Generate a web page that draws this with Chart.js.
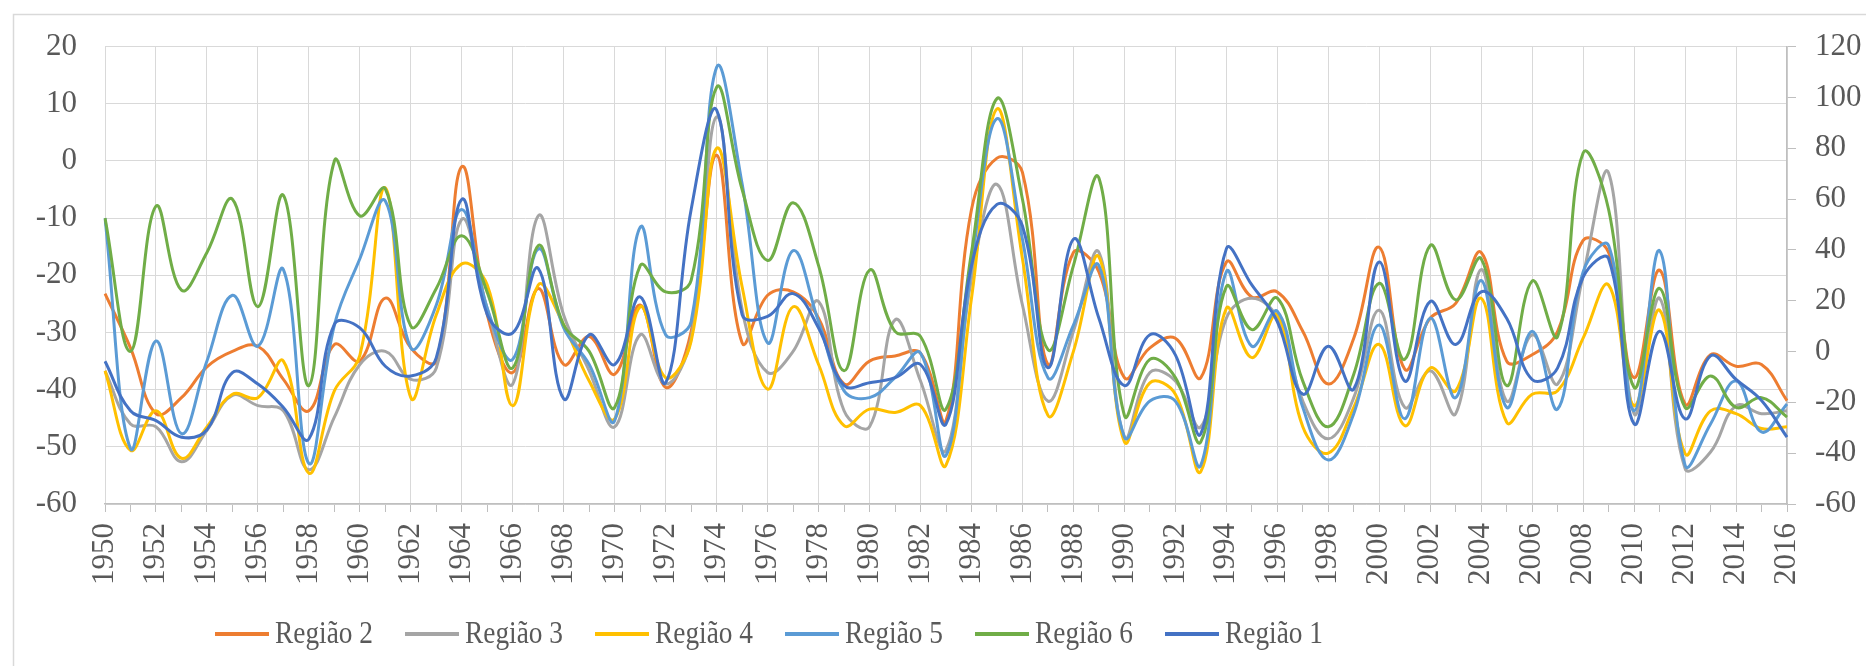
<!DOCTYPE html>
<html>
<head>
<meta charset="utf-8">
<script src="https://cdn.jsdelivr.net/npm/chart.js@4.4.1/dist/chart.umd.min.js"></script>
<style>
  html, body { margin: 0; padding: 0; background: #fff; }
  canvas { display: block; }
</style>
</head>
<body>
<canvas id="chart" width="1866" height="666"></canvas>
<script>
const years = [
  '1950', '1951', '1952', '1953', '1954', '1955', '1956', '1957', '1958', '1959',
  '1960', '1961', '1962', '1963', '1964', '1965', '1966', '1967', '1968', '1969',
  '1970', '1971', '1972', '1973', '1974', '1975', '1976', '1977', '1978', '1979',
  '1980', '1981', '1982', '1983', '1984', '1985', '1986', '1987', '1988', '1989',
  '1990', '1991', '1992', '1993', '1994', '1995', '1996', '1997', '1998', '1999',
  '2000', '2001', '2002', '2003', '2004', '2005', '2006', '2007', '2008', '2009',
  '2010', '2011', '2012', '2013', '2014', '2015', '2016'
];

// left axis series
const regiao2 = [
  -23.2, -32.7, -44.2, -41.4, -36, -33.3, -32.4, -38.2, -43.7, -32.1,
  -35, -24, -32.7, -35, -1, -26.9, -37, -22.3, -35.6, -30.7,
  -37.3, -25.2, -39.6, -29.8, 1, -31.8, -23.5, -22.9, -27.5, -39,
  -35, -34.1, -33.6, -45.4, -8.5, 0.5, -2, -35.6, -16, -19.4,
  -37.9, -32.7, -31, -37.9, -17.7, -23.8, -22.9, -29.8, -39, -31,
  -15.1, -36.4, -27.5, -24.9, -16, -35, -33.9, -29.8, -13.9, -16,
  -37.9, -19.1, -42.5, -33.9, -35.9, -35.6, -41.9
];
const regiao3 = [
  -36.7, -46, -46.5, -52.6, -47.1, -41, -42.8, -43.7, -54, -44.8,
  -35.6, -33.3, -38.2, -36.2, -10.2, -25.8, -39, -9.6, -27, -36.7,
  -46.5, -30.4, -39, -31, 7.7, -26, -37, -33.3, -24.6, -43.7,
  -46.5, -27.8, -38.5, -50.6, -20.6, -4.1, -25.2, -42, -29.8, -16,
  -48.3, -37, -38.5, -46.5, -27.5, -24, -27.5, -42, -48.6, -41.4,
  -26.1, -43.1, -36.7, -44.2, -19, -42, -30.4, -39, -20, -2.1,
  -44.2, -24, -53.8, -50.9, -42.8, -44.2, -43.7
];
const regiao4 = [
  -36.7, -50.6, -43.7, -52, -46.5, -40.8, -41.4, -35, -54.6, -40.2,
  -34, -4.7, -41.4, -26.9, -18, -21.7, -42.8, -21.7, -28.7, -38.5,
  -45.1, -25.5, -37.9, -31.5, 2.2, -22, -39.9, -25.5, -35.6, -46.3,
  -43.4, -44, -42.8, -53.2, -24, 9.1, -17.1, -44.5, -33.3, -16.8,
  -49.1, -38.8, -40.8, -54.3, -25.8, -34.4, -26.9, -46.5, -51.1, -43.1,
  -32.1, -46.3, -36.2, -40.2, -24, -45.7, -40.8, -40.2, -31, -21.7,
  -42.8, -26.1, -51.2, -43.7, -44.2, -46.8, -46.5
];
const regiao5 = [
  -10, -50.3, -31.5, -47.7, -35, -23.5, -32.4, -19, -52.9, -28.7,
  -17.1, -7, -32.7, -25.2, -8.5, -25.8, -34.7, -15.4, -29.2, -35.6,
  -45.4, -11.6, -30.4, -28.1, 16.4, -4, -31.8, -15.7, -28.1, -40.2,
  -41.4, -37.9, -33.6, -51.5, -18.3, 7.4, -13.7, -37.9, -28.7, -18.3,
  -48.3, -42, -42, -53.2, -19.4, -32.4, -26.3, -43.1, -52.3, -44.2,
  -28.7, -45.1, -27.5, -41.4, -20.9, -43.1, -29.8, -43.4, -19.4, -14.8,
  -43.7, -15.7, -53.2, -46, -38.5, -47.4, -42.5
];
const regiao6 = [
  -10, -33.3, -7.9, -22.6, -16, -6.7, -25.5, -6, -39.3, 0,
  -9.6, -4.9, -28.9, -22.3, -13.1, -23, -36.2, -14.8, -28.7, -33.3,
  -43.1, -18.3, -22.9, -20.9, 12.9, -5, -17.4, -7.3, -18.3, -36.7,
  -19.1, -29.8, -30.7, -43.4, -16, 10.9, -6.7, -33, -18.3, -3,
  -44.5, -34.7, -37.9, -49.1, -22, -29.5, -24, -38.5, -46.5, -37.3,
  -21.4, -34.7, -14.8, -24.3, -17.1, -39.3, -21, -30.7, 1.4, -8.5,
  -39.6, -22.3, -43.1, -37.6, -43.1, -41.4, -44.8
];
// right (secondary) axis series
const regiao1 = [
  -3.8, -23.3, -27.2, -33.7, -30.8, -8.3, -12.8, -22, -34.4, 10.7,
  9.3, -5.8, -9.6, -2.4, 59.9, 14.5, 7.3, 32.7, -18.6, 6.6,
  -5.1, 21.5, -12.3, 55.9, 95, 14.5, 13.8, 22.8, 9.3, -13.4,
  -12.3, -10.3, -5.1, -28.5, 33.8, 57.9, 49.4, -6.4, 44.2, 13.1,
  -13.4, 6.6, -1.3, -32.3, 40.4, 26.2, 11.8, -16.8, 2.1, -14.8,
  35.2, -11.6, 19.7, 2.8, 23.5, 13.1, -11, -6.4, 29.3, 36.5,
  -28.5, 8, -26.5, -1.7, -11, -19.3, -33.7
];

const serif = '"Liberation Serif", "Times New Roman", serif';
const textGrey = '#595959';

function series(label, data, color, order, axis) {
  return {
    label: label,
    data: data,
    borderColor: color,
    backgroundColor: color,
    borderWidth: 3,
    pointRadius: 0,
    pointHoverRadius: 0,
    tension: 0.4,
    fill: false,
    order: order,
    yAxisID: axis,
  };
}

// white background + the light outline of the chart box
const chartBox = {
  id: 'chartBox',
  beforeDraw(chart) {
    const ctx = chart.ctx;
    ctx.save();
    ctx.fillStyle = '#fff';
    ctx.fillRect(0, 0, chart.width, chart.height);
    ctx.strokeStyle = '#d9d9d9';
    ctx.lineWidth = 1.5;
    ctx.strokeRect(13.5, 14.5, chart.width + 20, chart.height + 20);
    ctx.restore();
  }
};

// legend drawn like the spreadsheet one: short line then the name
const bottomLegend = {
  id: 'bottomLegend',
  afterDraw(chart) {
    const ctx = chart.ctx;
    ctx.save();
    ctx.font = '31px ' + serif;
    ctx.textBaseline = 'middle';
    chart.data.datasets.forEach((ds, i) => {
      const x = 215 + i * 190;
      const y = 634;
      ctx.strokeStyle = ds.borderColor;
      ctx.lineWidth = 4;
      ctx.beginPath();
      ctx.moveTo(x, y);
      ctx.lineTo(x + 54, y);
      ctx.stroke();
      ctx.fillStyle = textGrey;
      // the spreadsheet squeezes the legend names a little
      ctx.fillText(ds.label, x + 60, y + 1, 98);
    });
    ctx.restore();
  }
};

new Chart(document.getElementById('chart').getContext('2d'), {
  type: 'line',
  data: {
    labels: years,
    datasets: [
      series('Região 2', regiao2, '#ED7D31', 6, 'y'),
      series('Região 3', regiao3, '#A5A5A5', 5, 'y'),
      series('Região 4', regiao4, '#FFC000', 4, 'y'),
      series('Região 5', regiao5, '#5B9BD5', 3, 'y'),
      series('Região 6', regiao6, '#70AD47', 2, 'y'),
      series('Região 1', regiao1, '#4472C4', 1, 'y2'),
    ],
  },
  options: {
    responsive: false,
    devicePixelRatio: 1,
    animation: false,
    layout: { padding: { top: 42, left: 0, right: 0, bottom: 0 } },
    plugins: {
      legend: { display: false },
      tooltip: { enabled: false },
    },
    scales: {
      x: {
        afterFit(scale) { scale.height = 162; },
        grid: {
          color: c => (c.index % 2 === 0 ? '#d9d9d9' : 'rgba(0,0,0,0)'),
          tickColor: '#bfbfbf',
          tickLength: 8,
          lineWidth: 1,
        },
        border: { color: '#bfbfbf', width: 1.5 },
        ticks: {
          autoSkip: false,
          minRotation: 90,
          maxRotation: 90,
          padding: 11,
          color: textGrey,
          font: { family: serif, size: 31 },
          callback(value, index) {
            return index % 2 === 0 ? this.getLabelForValue(value) : '';
          },
        },
      },
      y: {
        position: 'left',
        min: -60,
        max: 20,
        afterFit(scale) { scale.width = 105; },
        grid: { color: '#d9d9d9', drawTicks: false, lineWidth: 1 },
        border: { display: false },
        ticks: {
          stepSize: 10,
          padding: 28,
          color: textGrey,
          font: { family: serif, size: 31 },
        },
      },
      y2: {
        position: 'right',
        min: -60,
        max: 120,
        afterFit(scale) { scale.width = 79; },
        grid: { drawOnChartArea: false, color: '#bfbfbf', tickLength: 9 },
        border: { color: '#bfbfbf', width: 1.5 },
        ticks: {
          stepSize: 20,
          padding: 19,
          color: textGrey,
          font: { family: serif, size: 31 },
        },
      },
    },
  },
  plugins: [chartBox, bottomLegend],
});
</script>
</body>
</html>
